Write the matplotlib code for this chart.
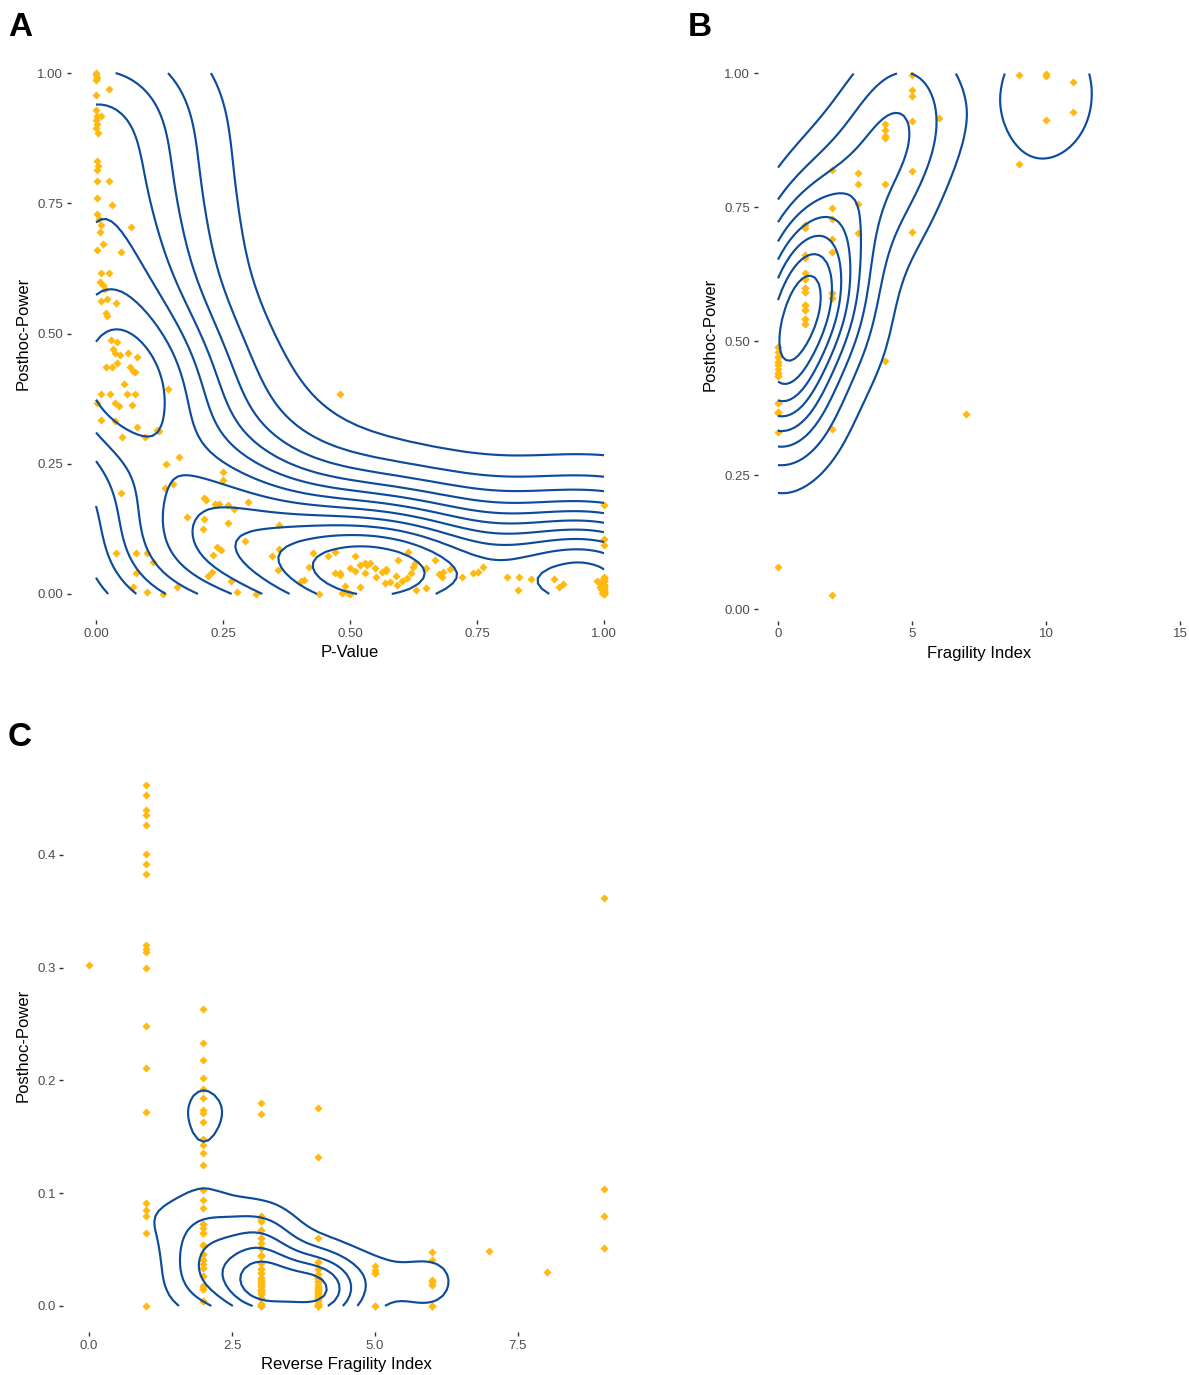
import numpy as np
import matplotlib
matplotlib.use("Agg")
import matplotlib.pyplot as plt

plt.rcParams['font.family'] = ['Liberation Sans', 'DejaVu Sans']

# ---------------- Panel A data: P-Value vs Posthoc-Power ----------------
pval_a = [0.00, 0.00, 0.002, 0.00, 0.026, 0.00, 0.00, 0.002, 0.01, 0.00,
          0.002, 0.00, 0.004, 0.002, 0.004, 0.002, 0.002, 0.026, 0.002, 0.031,
          0.002, 0.006, 0.01, 0.008, 0.069, 0.014, 0.002, 0.049, 0.01, 0.026,
          0.008, 0.014, 0.018, 0.01, 0.022, 0.039, 0.02, 0.022,
          0.030, 0.041, 0.033, 0.037, 0.047, 0.063, 0.081, 0.02, 0.031, 0.041,
          0.067, 0.073, 0.077, 0.055, 0.01, 0.028, 0.061, 0.077, 0.002, 0.037,
          0.045, 0.071, 0.142, 0.01, 0.037, 0.081, 0.051, 0.096, 0.12, 0.124,
          0.48, 0.163, 0.138, 0.136, 0.152, 0.049, 0.25, 0.25, 0.213, 0.217,
          0.234, 0.242, 0.26, 0.272, 0.299, 0.179, 0.213, 0.211, 0.26, 0.36,
          0.293, 0.238, 0.246, 0.23, 0.346, 0.36, 0.358, 0.22, 0.228,
          0.039, 0.079, 0.10, 0.112, 0.079, 0.073, 0.10, 0.132, 0.159, 0.266,
          0.278, 0.315, 0.404, 0.409, 0.439, 0.427, 0.419, 0.457, 0.47, 0.47,
          0.48, 0.49, 0.484, 0.496, 0.50, 0.51, 0.53, 0.533, 0.52, 0.551,
          0.563, 0.571, 0.569, 0.579, 0.593, 0.594, 0.602, 0.612, 0.614, 0.624,
          0.628, 0.63, 0.65, 0.667, 0.675, 0.681, 0.683, 0.697, 0.72, 0.742,
          0.752, 0.762, 0.809, 0.833, 0.831, 0.856, 0.902, 0.911, 0.919, 1.0,
          1.0, 1.0, 0.986, 1.0, 0.992, 1.0, 0.996, 1.0, 0.998,
          # studies stacked under the dense diamonds (bottom row and p = 1 cluster)
          1.0, 1.0, 1.0, 1.0, 0.998, 1.0, 0.996, 1.0, 1.0, 0.994,
          1.0, 1.0, 1.0, 1.0, 1.0, 0.998, 1.0, 0.996, 1.0, 1.0,
          1.0, 0.994, 1.0, 1.0, 0.99,
          0.48, 0.50, 0.51, 0.52, 0.53, 0.54, 0.55, 0.57, 0.59, 0.62, 0.65]
power_a = [1.00, 0.996, 0.99, 0.987, 0.969, 0.958, 0.929, 0.917, 0.917, 0.91,
           0.902, 0.894, 0.885, 0.831, 0.821, 0.814, 0.793, 0.793, 0.76, 0.747,
           0.729, 0.72, 0.708, 0.695, 0.704, 0.672, 0.66, 0.656, 0.616, 0.616,
           0.599, 0.593, 0.585, 0.562, 0.566, 0.559, 0.539, 0.534,
           0.488, 0.484, 0.47, 0.463, 0.459, 0.463, 0.455, 0.436, 0.436, 0.443,
           0.436, 0.428, 0.426, 0.403, 0.384, 0.384, 0.384, 0.384, 0.367, 0.367,
           0.361, 0.363, 0.393, 0.334, 0.332, 0.321, 0.301, 0.301, 0.315, 0.313,
           0.384, 0.263, 0.25, 0.203, 0.211, 0.194, 0.234, 0.219, 0.184, 0.18,
           0.173, 0.173, 0.171, 0.163, 0.177, 0.148, 0.144, 0.125, 0.136, 0.132,
           0.102, 0.09, 0.084, 0.075, 0.073, 0.086, 0.046, 0.035, 0.042,
           0.079, 0.079, 0.079, 0.061, 0.04, 0.013, 0.004, 0.00, 0.013, 0.025,
           0.004, 0.00, 0.025, 0.027, 0.00, 0.079, 0.052, 0.073, 0.081, 0.04,
           0.036, 0.015, 0.002, 0.002, 0.00, 0.073, 0.06, 0.056, 0.013, 0.033,
           0.042, 0.048, 0.021, 0.023, 0.017, 0.065, 0.025, 0.031, 0.081, 0.052,
           0.06, 0.008, 0.012, 0.065, 0.038, 0.033, 0.042, 0.048, 0.033, 0.04,
           0.042, 0.052, 0.033, 0.033, 0.008, 0.029, 0.029, 0.013, 0.019, 0.171,
           0.106, 0.094, 0.025, 0.033, 0.013, 0.017, 0.002, 0.004, 0.008,
           0.0, 0.005, 0.01, 0.015, 0.02, 0.025, 0.01, 0.03, 0.002, 0.02,
           0.0, 0.004, 0.008, 0.012, 0.016, 0.02, 0.024, 0.012, 0.028, 0.006,
           0.018, 0.01, 0.03, 0.002, 0.022,
           0.04, 0.05, 0.045, 0.055, 0.04, 0.06, 0.05, 0.045, 0.035, 0.04, 0.05]

# ---------------- Panel B data: Fragility Index vs Posthoc-Power ----------------
fi_b = [5, 5, 5, 9, 10, 10, 11, 11, 10, 9,
        6, 5, 4, 4, 4, 4, 5, 4, 2, 3,
        3, 3, 2, 2, 1, 1, 3, 2, 2, 5,
        1, 1, 1, 1, 1, 1, 1, 1, 1, 2,
        2, 0, 0, 0, 0, 0, 4, 0, 0, 0,
        0, 2, 7, 0, 2,
        # stacked (overplotted) studies in the dense columns
        0, 0, 0, 0, 0, 0, 0, 0, 1, 1,
        1, 1, 1, 1, 1, 1, 2, 2, 0, 0]
power_b = [0.996, 0.968, 0.958, 0.996, 0.999, 0.994, 0.983, 0.928, 0.913, 0.83,
           0.916, 0.91, 0.904, 0.894, 0.883, 0.878, 0.818, 0.792, 0.819, 0.814,
           0.792, 0.756, 0.748, 0.728, 0.716, 0.711, 0.701, 0.691, 0.666, 0.704,
           0.661, 0.654, 0.616, 0.598, 0.591, 0.568, 0.558, 0.541, 0.531, 0.59,
           0.581, 0.488, 0.471, 0.461, 0.441, 0.435, 0.463, 0.385, 0.368, 0.365,
           0.331, 0.335, 0.363, 0.078, 0.027,
           0.488, 0.48, 0.471, 0.461, 0.455, 0.447, 0.441, 0.435, 0.531, 0.541,
           0.558, 0.568, 0.591, 0.598, 0.616, 0.626, 0.59, 0.581, 0.368, 0.385]

# ---------------- Panel C data: Reverse Fragility Index vs Posthoc-Power ----------------
rfi_levels = [0, 1, 2, 3, 4, 5, 6, 7, 8, 9]
power_c_by_rfi = [
    [0.302],
    [0.462, 0.453, 0.44, 0.435, 0.427, 0.401, 0.392, 0.383, 0.32, 0.317,
     0.314, 0.30, 0.248, 0.211, 0.172, 0.091, 0.085, 0.08, 0.065, 0.0],
    [0.263, 0.233, 0.218, 0.202, 0.192, 0.184, 0.174, 0.171, 0.163, 0.148,
     0.143, 0.136, 0.125, 0.103, 0.094, 0.087, 0.073, 0.069, 0.065, 0.054,
     0.046, 0.041, 0.037, 0.034, 0.027, 0.018, 0.015, 0.004,
     0.004, 0.015, 0.018, 0.027, 0.034, 0.041, 0.046, 0.054, 0.065, 0.073],
    [0.18, 0.17, 0.08, 0.078, 0.075, 0.067, 0.06, 0.056, 0.051, 0.045,
     0.044, 0.038, 0.033, 0.029, 0.025, 0.021, 0.019, 0.014, 0.011, 0.007,
     0.002, 0.0,
     0.0, 0.002, 0.007, 0.011, 0.014, 0.019, 0.021, 0.025, 0.029, 0.033,
     0.038, 0.044, 0.051, 0.06, 0.067, 0.075, 0.0, 0.007, 0.014, 0.021,
     0.012, 0.017, 0.023],
    [0.176, 0.132, 0.06, 0.039, 0.033, 0.025, 0.014, 0.011, 0.007, 0.002, 0.0,
     0.0, 0.002, 0.007, 0.011, 0.014, 0.025, 0.033, 0.039, 0.0, 0.007, 0.014, 0.025,
     0.004, 0.009, 0.012, 0.016, 0.019, 0.021, 0.028, 0.005, 0.017, 0.022],
    [0.035, 0.029, 0.0, 0.0, 0.029, 0.032],
    [0.048, 0.041, 0.023, 0.019, 0.0, 0.0, 0.021, 0.019],
    [0.049],
    [0.03],
    [0.362, 0.1035, 0.08, 0.051],
]
rfi_c = [r for r, vals in zip(rfi_levels, power_c_by_rfi) for _ in vals]
power_c = [v for vals in power_c_by_rfi for v in vals]

POINT_COL = "#FFB90F"
LINE_COL = "#0D4C9B"


def bandwidth_nrd(v):
    v = np.asarray(v, float)
    q1, q3 = np.percentile(v, [25, 75])
    h = (q3 - q1) / 1.34
    return 4 * 1.06 * min(np.std(v, ddof=1), h) * len(v) ** (-0.2)


def kde2d(x, y, lims, h=None, adjust=(1.0, 1.0), n=100):
    x = np.asarray(x, float)
    y = np.asarray(y, float)
    if h is None:
        h = (bandwidth_nrd(x), bandwidth_nrd(y))
    hx = h[0] * adjust[0] / 4
    hy = h[1] * adjust[1] / 4
    gx = np.linspace(lims[0], lims[1], n)
    gy = np.linspace(lims[2], lims[3], n)
    ax_ = (gx[:, None] - x[None, :]) / hx
    ay_ = (gy[:, None] - y[None, :]) / hy
    phi = lambda u: np.exp(-0.5 * u * u) / np.sqrt(2 * np.pi)
    z = phi(ax_) @ phi(ay_).T / (len(x) * hx * hy)
    return gx, gy, z


def pretty(lo, hi, ndiv=10):
    h, h5 = 1.5, 0.5 + 1.5 * 1.5
    cell = (hi - lo) / ndiv
    U = 10 ** np.floor(np.log10(cell))
    unit = U
    if 2 * U - cell < h * (cell - unit):
        unit = 2 * U
        if 5 * U - cell < h5 * (cell - unit):
            unit = 5 * U
            if 10 * U - cell < h * (cell - unit):
                unit = 10 * U
    ns = np.floor(lo / unit + 1e-7)
    nu = np.ceil(hi / unit - 1e-7)
    return np.arange(ns, nu + 0.5) * unit


def contour_breaks(z, bins=None):
    lo, hi = z.min(), z.max()
    if bins is None:
        return pretty(lo, hi, 10)
    bw = (hi - lo) / (bins - 1)
    return np.arange(np.floor(lo / bw), np.ceil(hi / bw) + 0.5) * bw


def density_contours(ax, x, y, lims, h=None, adjust=(1.0, 1.0), bins=None):
    gx, gy, z = kde2d(x, y, lims, h, adjust)
    levels = contour_breaks(z, bins)
    ax.contour(gx, gy, z.T, levels=levels, colors=LINE_COL, linewidths=1.55, zorder=4)


W, H = 1189, 1375
fig = plt.figure(figsize=(W / 100, H / 100), dpi=100)


def make_axes(left, right, top, bottom):
    return fig.add_axes([left / W, 1 - bottom / H, (right - left) / W, (bottom - top) / H])


def style(ax):
    for s in ax.spines.values():
        s.set_visible(False)
    ax.tick_params(length=3, width=1.0, color="#333333", labelcolor="#4D4D4D",
                   labelsize=9.5, pad=2.5)


def expanded(v, frac=0.05):
    lo, hi = min(v), max(v)
    d = (hi - lo) * frac
    return lo - d, hi + d


# Panel A
axA = make_axes(70.6, 629.4, 47, 620)
axA.scatter(pval_a, power_a, marker="D", s=17, color=POINT_COL, linewidths=0, zorder=3)
density_contours(axA, pval_a, power_a, (0, 1, 0, 1), adjust=(1.1, 1.0), bins=13)
axA.set_xlim(-0.05, 1.05)
axA.set_ylim(-0.05, 1.05)
axA.set_xticks([0, 0.25, 0.5, 0.75, 1.0])
axA.set_xticklabels(["0.00", "0.25", "0.50", "0.75", "1.00"])
axA.set_yticks([0, 0.25, 0.5, 0.75, 1.0])
axA.set_yticklabels(["0.00", "0.25", "0.50", "0.75", "1.00"])
axA.set_xlabel("P-Value", fontsize=12, labelpad=4)
axA.set_ylabel("Posthoc-Power", fontsize=12, labelpad=5)
style(axA)

# Panel B
b_ylim = expanded(power_b)
b_top = 609 - (b_ylim[1] - 0) * 536
b_bot = 609 - (b_ylim[0] - 0) * 536
axB = make_axes(757.9, 1200, b_top, b_bot)
axB.scatter(fi_b, power_b, marker="D", s=17, color=POINT_COL, linewidths=0, zorder=3)
density_contours(axB, fi_b, power_b, (0, 15, min(power_b), max(power_b)))
axB.set_xlim(-0.75, 15.75)
axB.set_ylim(*b_ylim)
axB.set_xticks([0, 5, 10, 15])
axB.set_xticklabels(["0", "5", "10", "15"])
axB.set_yticks([0, 0.25, 0.5, 0.75, 1.0])
axB.set_yticklabels(["0.00", "0.25", "0.50", "0.75", "1.00"])
axB.set_xlabel("Fragility Index", fontsize=12, labelpad=4)
axB.set_ylabel("Posthoc-Power", fontsize=12, labelpad=5)
style(axB)

# Panel C
axC = make_axes(63.3, 629.5, 759, 1332)
axC.scatter(rfi_c, power_c, marker="D", s=17, color=POINT_COL, linewidths=0, zorder=3)
density_contours(axC, rfi_c, power_c, (min(rfi_c), max(rfi_c), min(power_c), max(power_c)),
                 h=(2.0, 0.08), bins=7)
axC.set_xlim(*expanded(rfi_c))
axC.set_ylim(*expanded(power_c))
axC.set_xticks([0, 2.5, 5, 7.5])
axC.set_xticklabels(["0.0", "2.5", "5.0", "7.5"])
axC.set_yticks([0, 0.1, 0.2, 0.3, 0.4])
axC.set_yticklabels(["0.0", "0.1", "0.2", "0.3", "0.4"])
axC.set_xlabel("Reverse Fragility Index", fontsize=12, labelpad=4)
axC.set_ylabel("Posthoc-Power", fontsize=12, labelpad=5)
style(axC)

for lab, (px, py) in zip(["A", "B", "C"], [(20, 28), (700, 28), (20, 738)]):
    fig.text(px / W, 1 - py / H, lab, fontsize=24, fontweight="bold",
             ha="center", va="center")

fig.savefig("out.png", dpi=100)
